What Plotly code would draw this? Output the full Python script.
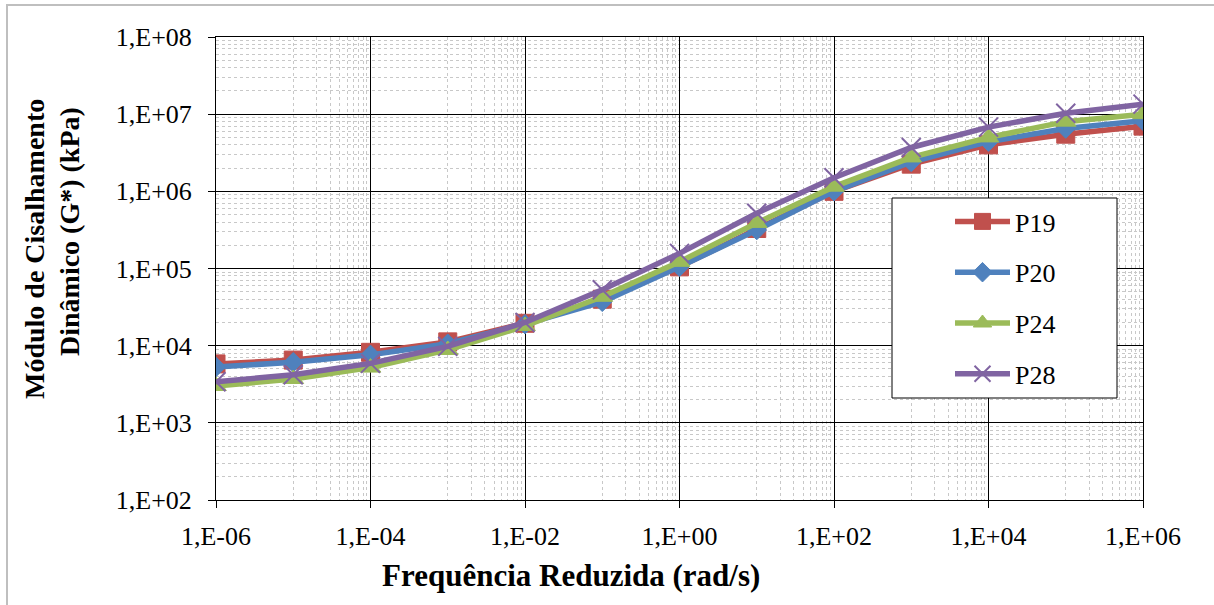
import plotly.graph_objects as go

# Reduced frequency (rad/s) and dynamic shear modulus G* (kPa) per sample
freq = [1e-6, 1e-5, 1e-4, 1e-3, 1e-2, 1e-1, 1e0, 1e1, 1e2, 1e3, 1e4, 1e5, 1e6]
g_p19 = [5.8e3, 6.5e3, 8.2e3, 1.12e4, 1.95e4, 4.0e4, 1.05e5, 3.3e5, 1.0e6, 2.25e6, 4.0e6, 5.5e6, 7.0e6]
g_p20 = [5.3e3, 6.1e3, 7.6e3, 1.06e4, 1.9e4, 3.7e4, 1.05e5, 3.15e5, 1.0e6, 2.4e6, 4.4e6, 6.5e6, 8.2e6]
g_p24 = [3.0e3, 3.7e3, 5.2e3, 8.8e3, 1.8e4, 4.3e4, 1.22e5, 3.9e5, 1.15e6, 2.75e6, 5.0e6, 8.0e6, 1.0e7]
g_p28 = [3.4e3, 4.2e3, 5.9e3, 9.8e3, 2.0e4, 5.3e4, 1.57e5, 5.2e5, 1.5e6, 3.7e6, 6.8e6, 1.03e7, 1.35e7]

series_names = ["P19", "P20", "P24", "P28"]
series_values = [g_p19, g_p20, g_p24, g_p28]
series_colors = ["#C0504D", "#4F81BD", "#9BBB59", "#8064A2"]
series_symbols = ["square", "diamond", "triangle-up", "x-thin"]
series_sizes = [18, 15, 18, 19]

x_tick_vals = [1e-6, 1e-4, 1e-2, 1e0, 1e2, 1e4, 1e6]
x_tick_text = ["1,E-06", "1,E-04", "1,E-02", "1,E+00", "1,E+02", "1,E+04", "1,E+06"]
y_tick_vals = [1e2, 1e3, 1e4, 1e5, 1e6, 1e7, 1e8]
y_tick_text = ["1,E+02", "1,E+03", "1,E+04", "1,E+05", "1,E+06", "1,E+07", "1,E+08"]

# minor grid: x at 1..9 x 10^odd exponents, y at 2..9 x every decade
x_minor = [m * 10.0 ** e for e in (-5, -3, -1, 1, 3, 5) for m in range(1, 10)]
y_minor = [m * 10.0 ** e for e in range(2, 8) for m in range(2, 10)]

FONT = "Liberation Serif"

fig = go.Figure()
for name, vals, col, sym, size in zip(series_names, series_values, series_colors,
                                      series_symbols, series_sizes):
    lw = 2 if sym == "x-thin" else 1
    fig.add_trace(go.Scatter(
        x=freq, y=vals, name=name, legendgroup=name,
        mode="lines+markers",
        line=dict(color=col, width=5.5),
        marker=dict(symbol=sym, size=size, color=col, line=dict(color=col, width=lw)),
    ))

W, H = 1214, 605
ml, mr, mt, mb = 216, 71, 37, 105
pw, ph = W - ml - mr, H - mt - mb


def px_x(p):
    return (p - ml) / pw


def px_y(p):
    return (H - mb - p) / ph


axis_common = dict(
    type="log",
    showline=True, linecolor="black", linewidth=1, mirror=True,
    showgrid=True, gridcolor="black", gridwidth=1,
    ticks="outside", ticklen=7, tickcolor="black", tickwidth=1,
    tickfont=dict(family=FONT, size=26, color="black"),
    zeroline=False,
)

fig.update_layout(
    width=W, height=H,
    margin=dict(l=ml, r=mr, t=mt, b=mb),
    paper_bgcolor="white", plot_bgcolor="white",
    font=dict(family=FONT),
    showlegend=True,
    legend=dict(
        x=px_x(950), y=px_y(198), xanchor="left", yanchor="top",
        bgcolor="rgba(0,0,0,0)", borderwidth=0,
        font=dict(family=FONT, size=26, color="black"),
        tracegroupgap=14, itemsizing="trace", itemwidth=55,
    ),
    xaxis=dict(
        **axis_common,
        range=[-6, 6],
        tickmode="array", tickvals=x_tick_vals, ticktext=x_tick_text,
        ticklabelstandoff=6,
        minor=dict(tickmode="array", tickvals=x_minor, showgrid=True,
                   gridcolor="#C8C8C8", griddash="dot", gridwidth=1, ticks=""),
    ),
    yaxis=dict(
        **axis_common,
        range=[2, 8],
        tickmode="array", tickvals=y_tick_vals, ticktext=y_tick_text,
        ticklabelstandoff=11,
        minor=dict(tickmode="array", tickvals=y_minor, showgrid=True,
                   gridcolor="#C8C8C8", griddash="dot", gridwidth=1, ticks=""),
    ),
    shapes=[
        # legend frame
        dict(type="rect", xref="paper", yref="paper", layer="above",
             x0=px_x(892), x1=px_x(1117), y0=px_y(398), y1=px_y(198),
             fillcolor="white", line=dict(color="black", width=1)),
        # outer chart border
        dict(type="rect", xref="paper", yref="paper", layer="below",
             x0=px_x(7), x1=px_x(1222), y0=px_y(612), y1=px_y(5),
             line=dict(color="#BFBFBF", width=2)),
    ],
    annotations=[
        dict(text="<b>Módulo de Cisalhamento</b>", textangle=-90,
             xref="paper", yref="paper", x=px_x(34), y=px_y(249),
             xanchor="center", yanchor="middle", showarrow=False,
             font=dict(family=FONT, size=28, color="black")),
        dict(text="<b>Dinâmico (G*) (kPa)</b>", textangle=-90,
             xref="paper", yref="paper", x=px_x(69), y=px_y(232),
             xanchor="center", yanchor="middle", showarrow=False,
             font=dict(family=FONT, size=28, color="black")),
        dict(text="<b>Frequência Reduzida (rad/s)</b>",
             xref="paper", yref="paper", x=px_x(571), y=px_y(575),
             xanchor="center", yanchor="middle", showarrow=False,
             font=dict(family=FONT, size=31, color="black")),
    ],
)

fig.write_html("out.html")
